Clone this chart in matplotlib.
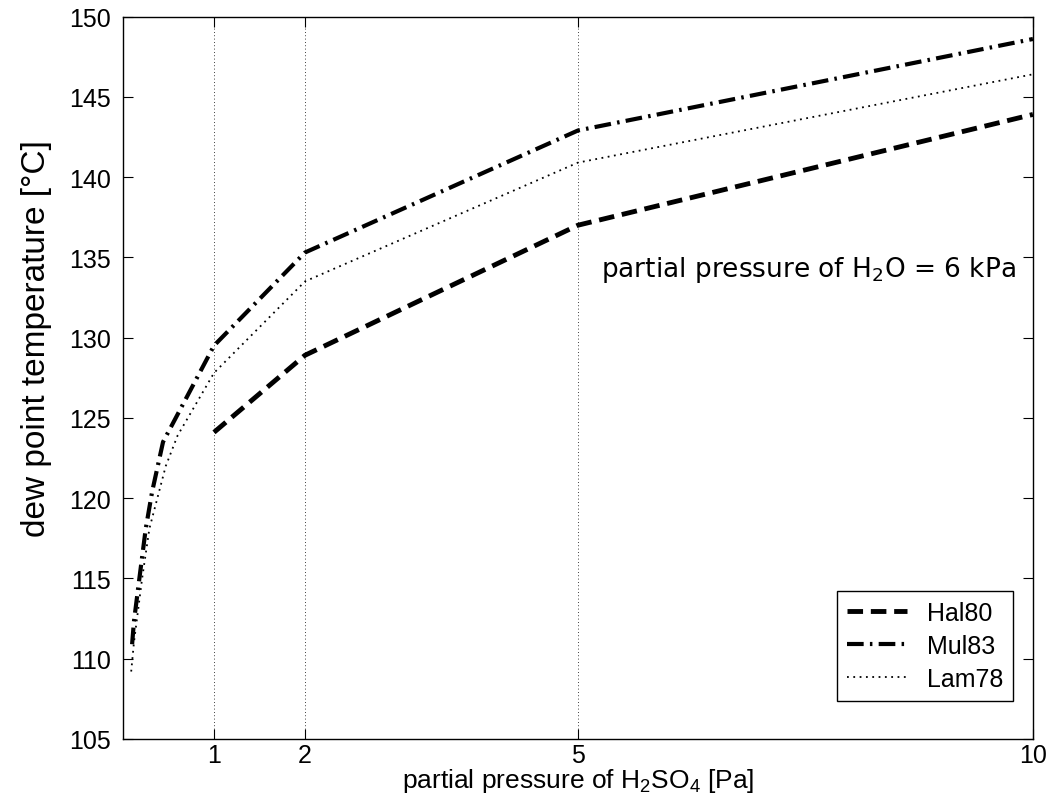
import numpy as np
import matplotlib
matplotlib.use("Agg")
import matplotlib.pyplot as plt

plt.rcParams['font.family'] = ['Liberation Sans', 'DejaVu Sans']
plt.rcParams['mathtext.default'] = 'regular'

# partial pressure of H2SO4 [Pa] vs dew point temperature [C]
x_hal = [1, 2, 5, 10]
y_hal = [124.1, 128.9, 137.0, 143.9]

x_mul = [0.1, 0.12, 0.18, 0.25, 0.32, 0.44, 1, 2, 5, 10]
y_mul = [110.9, 112.3, 115.0, 118.1, 120.4, 123.5, 129.5, 135.3, 142.9, 148.6]

x_lam = [0.09, 0.12, 0.21, 0.29, 0.47, 0.6, 1, 2, 5, 10]
y_lam = [109.2, 111.0, 115.0, 118.1, 122.0, 123.9, 127.8, 133.5, 140.9, 146.4]

xticks = [1, 2, 5, 10]
yticks = np.arange(105, 151, 5)

fig = plt.figure(figsize=(10.54, 8.03), dpi=100)
ax = fig.add_axes([0.1167, 0.0785, 0.8633, 0.8997])

ax.plot(x_hal, y_hal, color="black", lw=3.5, dashes=(3.2, 1.6), label="Hal80")
ax.plot(x_mul, y_mul, color="black", lw=3.0, dashes=(4, 1.5, 0.6, 1.5), label="Mul83")
ax.plot(x_lam, y_lam, color="black", lw=1.3, dashes=(1, 2.5), label="Lam78")

for xv in xticks[:-1]:
    ax.axvline(xv, color="black", lw=0.6, ls=(0, (1, 3)), zorder=0)

ax.set_xlim(0, 10)
ax.set_ylim(105, 150)
ax.set_xticks(xticks)
ax.set_yticks(yticks)
ax.tick_params(direction="in", top=True, right=True, length=7, labelsize=18)
ax.tick_params(axis="x", pad=3)
ax.tick_params(axis="y", pad=9)
for s in ax.spines.values():
    s.set_linewidth(1.0)

ax.set_xlabel("partial pressure of H$_2$SO$_4$ [Pa]", fontsize=19, labelpad=-1)
ax.set_ylabel("dew point temperature [°C]", fontsize=24)
ax.yaxis.set_label_coords(-0.078, 0.555)

ax.text(5.25, 134.3, "partial pressure of H$_2$O = 6 kPa", fontsize=19,
        family=["DejaVu Sans"], va="center")

leg = ax.legend(loc="lower right", fontsize=18, fancybox=False, framealpha=1,
                edgecolor="black", handlelength=2.4, borderaxespad=0,
                labelspacing=0.35, bbox_to_anchor=(0.978, 0.053))
leg.get_frame().set_linewidth(1.0)

fig.savefig("out.png", dpi=100)
